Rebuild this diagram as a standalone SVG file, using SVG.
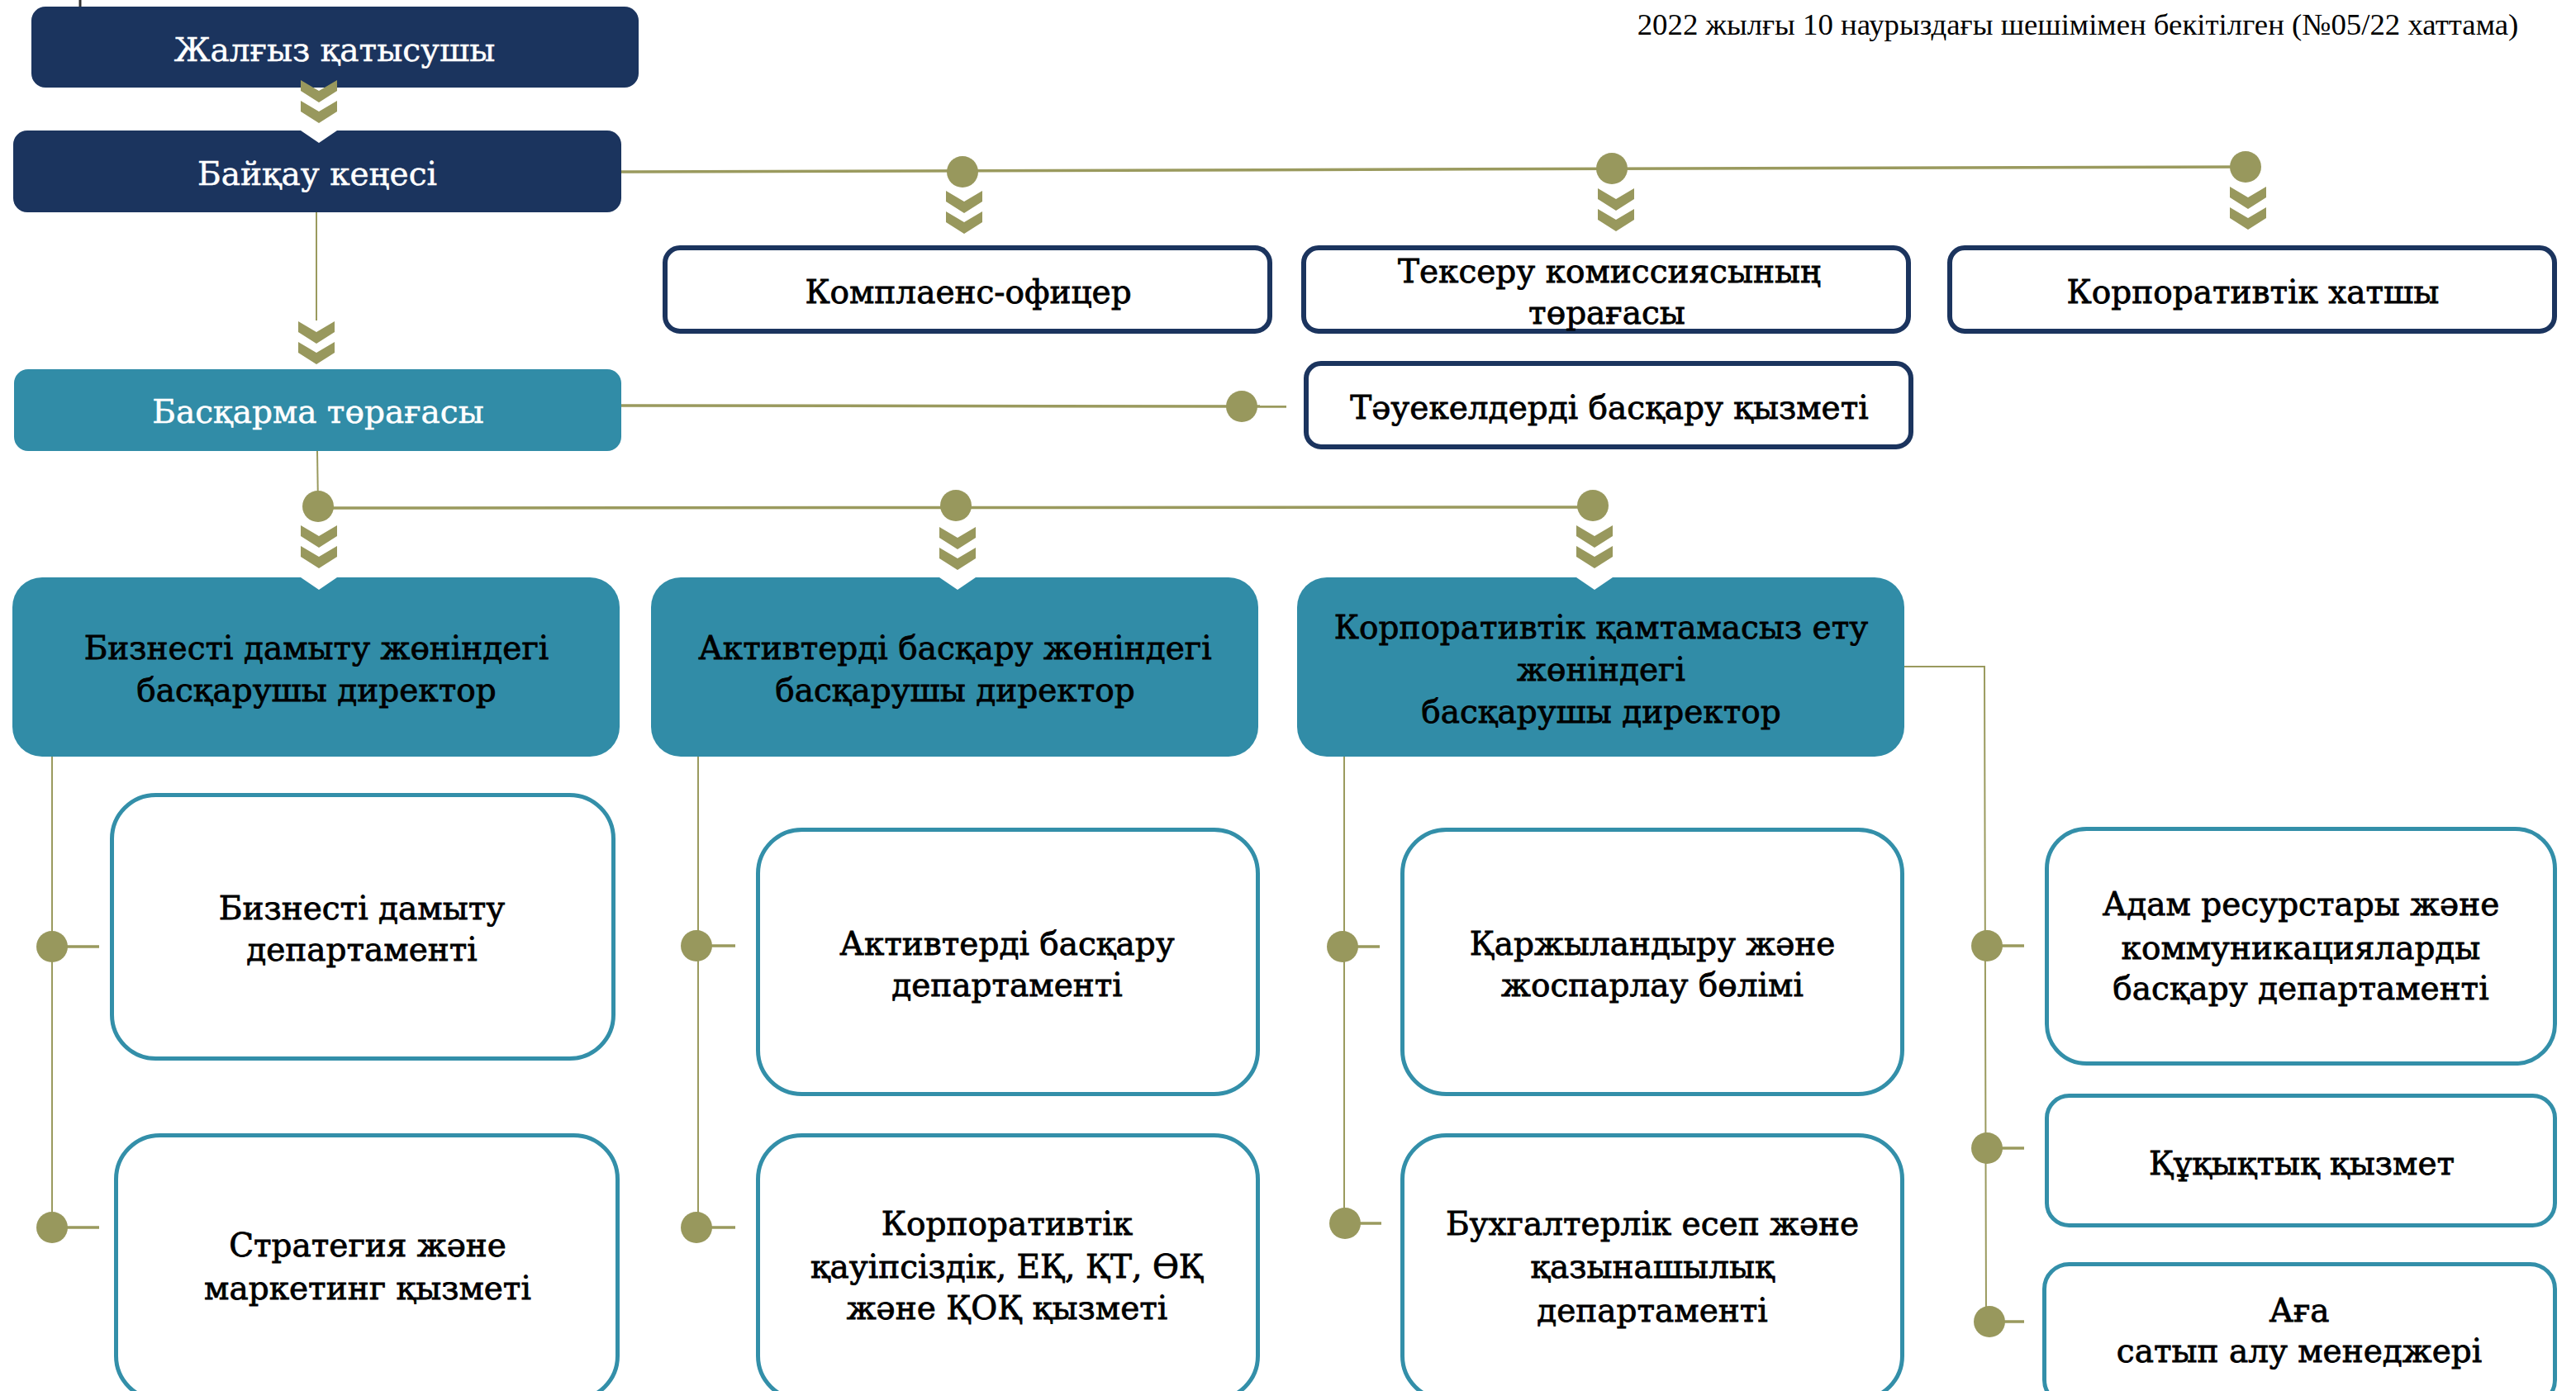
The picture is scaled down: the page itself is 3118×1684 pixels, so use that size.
<svg xmlns="http://www.w3.org/2000/svg" width="3118" height="1684" viewBox="0 0 3118 1684">
<style>
.nav{fill:#1b345e}
.teal{fill:#318ca7}
.ob{fill:#fff;stroke:#1b345e;stroke-width:6}
.tb{fill:#fff;stroke:#338fa9;stroke-width:5}
.ln{stroke:#9a9a5e;stroke-width:3.5;fill:none}
.lt{stroke:#9a9a5e;stroke-width:2;fill:none}
.dot{fill:#98985d}
.chev{fill:#98985d}
.notch{fill:#fff}
.t{font-family:"DejaVu Serif","Liberation Serif",serif;font-size:39px;fill:#000;stroke:#000;stroke-width:0.8;text-anchor:middle}
.w{fill:#fff;stroke:#fff;stroke-width:0.5}
.hdr{font-family:"Liberation Serif","Times New Roman",serif;font-size:36.8px;fill:#000;text-anchor:middle}
</style>
<defs>
<path id="chev" d="M-22,0 L0,13 L22,0 L22,13 L0,27 L-22,13 Z"/>
<g id="chev2" class="chev"><use href="#chev"/><use href="#chev" y="25"/></g>
</defs>
<rect width="3118" height="1684" fill="#fff"/>
<line x1="97" y1="0" x2="97" y2="8" stroke="#333" stroke-width="3"/>
<text class="hdr" x="2515" y="42">2022 жылғы 10 наурыздағы шешімімен бекітілген (№05/22 хаттама)</text>

<g id="connectors">
<line class="lt" x1="383" y1="257" x2="383" y2="388"/>
<line class="ln" x1="752" y1="208" x2="2718" y2="202"/>
<line class="ln" x1="752" y1="491" x2="1557" y2="492"/>
<line class="lt" x1="384" y1="546" x2="385" y2="613"/>
<line class="ln" x1="385" y1="615" x2="1928" y2="614"/>
<line class="lt" x1="63" y1="916" x2="63" y2="1486"/>
<line class="lt" x1="845" y1="916" x2="845" y2="1486"/>
<line class="lt" x1="1627" y1="916" x2="1627" y2="1481"/>
<polyline class="lt" points="2305,807 2402,807 2404,1600"/>
<line class="ln" x1="63" y1="1146" x2="120" y2="1146"/>
<line class="ln" x1="63" y1="1486" x2="120" y2="1486"/>
<line class="ln" x1="843" y1="1145" x2="890" y2="1145"/>
<line class="ln" x1="843" y1="1486" x2="890" y2="1486"/>
<line class="ln" x1="1625" y1="1146" x2="1670" y2="1146"/>
<line class="ln" x1="1628" y1="1481" x2="1672" y2="1481"/>
<line class="ln" x1="2405" y1="1145" x2="2450" y2="1145"/>
<line class="ln" x1="2405" y1="1390" x2="2450" y2="1390"/>
<line class="ln" x1="2408" y1="1600" x2="2450" y2="1600"/>
<circle class="dot" cx="1165" cy="208" r="19"/>
<circle class="dot" cx="1951" cy="204" r="19"/>
<circle class="dot" cx="2718" cy="202" r="19"/>
<circle class="dot" cx="1503" cy="492" r="19"/>
<circle class="dot" cx="385" cy="613" r="19"/>
<circle class="dot" cx="1157" cy="612" r="19"/>
<circle class="dot" cx="1928" cy="612" r="19"/>
<circle class="dot" cx="63" cy="1146" r="19"/>
<circle class="dot" cx="63" cy="1486" r="19"/>
<circle class="dot" cx="843" cy="1145" r="19"/>
<circle class="dot" cx="843" cy="1486" r="19"/>
<circle class="dot" cx="1625" cy="1146" r="19"/>
<circle class="dot" cx="1628" cy="1481" r="19"/>
<circle class="dot" cx="2405" cy="1145" r="19"/>
<circle class="dot" cx="2405" cy="1390" r="19"/>
<circle class="dot" cx="2408" cy="1600" r="19"/>
<use href="#chev2" x="1167" y="231"/>
<use href="#chev2" x="1956" y="228"/>
<use href="#chev2" x="2721" y="226"/>
<use href="#chev2" x="383" y="389"/>
</g>

<g id="n-zhalgyz">
<rect class="nav" x="38" y="8" width="735" height="98" rx="17"/>
<text class="t w" x="405" y="74">Жалғыз қатысушы</text>
</g>
<use href="#chev2" x="386" y="97"/>
<g id="n-baiqau">
<rect class="nav" x="16" y="158" width="736" height="99" rx="17"/>
<polygon class="notch" points="364,158 408,158 386,173"/>
<text class="t w" x="384" y="224">Байқау кеңесі</text>
</g>
<g id="n-baskarma">
<rect class="teal" x="17" y="447" width="735" height="99" rx="17"/>
<text class="t w" x="385" y="512">Басқарма төрағасы</text>
</g>
<g id="n-compliance">
<rect class="ob" x="805" y="300" width="732" height="101" rx="18"/>
<text class="t" x="1172" y="367">Комплаенс-офицер</text>
</g>
<g id="n-audit">
<rect class="ob" x="1578" y="300" width="732" height="101" rx="18"/>
<text class="t" x="1948" y="342">Тексеру комиссиясының</text>
<text class="t" x="1945" y="392">төрағасы</text>
</g>
<g id="n-secretary">
<rect class="ob" x="2360" y="300" width="732" height="101" rx="18"/>
<text class="t" x="2727" y="367">Корпоративтік хатшы</text>
</g>
<g id="n-risk">
<rect class="ob" x="1581" y="440" width="732" height="101" rx="18"/>
<text class="t" x="1948" y="507">Тәуекелдерді басқару қызметі</text>
</g>
<g id="n-dir1">
<rect class="teal" x="15" y="699" width="735" height="217" rx="36"/>
<polygon class="notch" points="364,699 408,699 386,714"/>
<text class="t" x="383" y="798">Бизнесті дамыту жөніндегі</text>
<text class="t" x="383" y="849">басқарушы директор</text>
</g>
<g id="n-dir2">
<rect class="teal" x="788" y="699" width="735" height="217" rx="36"/>
<polygon class="notch" points="1137,699 1181,699 1159,714"/>
<text class="t" x="1156" y="798">Активтерді басқару жөніндегі</text>
<text class="t" x="1156" y="849">басқарушы директор</text>
</g>
<g id="n-dir3">
<rect class="teal" x="1570" y="699" width="735" height="217" rx="36"/>
<polygon class="notch" points="1908,699 1952,699 1930,714"/>
<text class="t" x="1938" y="773">Корпоративтік қамтамасыз ету</text>
<text class="t" x="1938" y="824">жөніндегі</text>
<text class="t" x="1938" y="875">басқарушы директор</text>
</g>
<use href="#chev2" x="386" y="636"/>
<use href="#chev2" x="1159" y="638"/>
<use href="#chev2" x="1930" y="636"/>
<g id="n-bizdev">
<rect class="tb" x="135.5" y="962.5" width="607" height="319" rx="53"/>
<text class="t" x="438" y="1113">Бизнесті дамыту</text>
<text class="t" x="438" y="1163">департаменті</text>
</g>
<g id="n-strategy">
<rect class="tb" x="140.5" y="1374.5" width="607" height="320" rx="53"/>
<text class="t" x="445" y="1521">Стратегия және</text>
<text class="t" x="445" y="1573">маркетинг қызметі</text>
</g>
<g id="n-assets">
<rect class="tb" x="917.5" y="1004.5" width="605" height="320" rx="53"/>
<text class="t" x="1219" y="1156">Активтерді басқару</text>
<text class="t" x="1219" y="1206">департаменті</text>
</g>
<g id="n-security">
<rect class="tb" x="917.5" y="1374.5" width="605" height="320" rx="53"/>
<text class="t" x="1219" y="1495">Корпоративтік</text>
<text class="t" x="1219" y="1547">қауіпсіздік, ЕҚ, ҚТ, ӨҚ</text>
<text class="t" x="1219" y="1597">және ҚОҚ қызметі</text>
</g>
<g id="n-finance">
<rect class="tb" x="1697.5" y="1004.5" width="605" height="320" rx="53"/>
<text class="t" x="2000" y="1156">Қаржыландыру және</text>
<text class="t" x="2000" y="1206">жоспарлау бөлімі</text>
</g>
<g id="n-accounting">
<rect class="tb" x="1697.5" y="1374.5" width="605" height="320" rx="53"/>
<text class="t" x="2000" y="1495">Бухгалтерлік есеп және</text>
<text class="t" x="2000" y="1547">қазынашылық</text>
<text class="t" x="2000" y="1600">департаменті</text>
</g>
<g id="n-hr">
<rect class="tb" x="2477.5" y="1003.5" width="615" height="284" rx="48"/>
<text class="t" x="2785" y="1108">Адам ресурстары және</text>
<text class="t" x="2785" y="1161">коммуникацияларды</text>
<text class="t" x="2785" y="1210">басқару департаменті</text>
</g>
<g id="n-legal">
<rect class="tb" x="2477.5" y="1326.5" width="615" height="157" rx="27"/>
<text class="t" x="2786" y="1422">Құқықтық қызмет</text>
</g>
<g id="n-procurement">
<rect class="tb" x="2474.5" y="1530.5" width="618" height="170" rx="30"/>
<text class="t" x="2783" y="1600">Аға</text>
<text class="t" x="2783" y="1649">сатып алу менеджері</text>
</g>
</svg>
